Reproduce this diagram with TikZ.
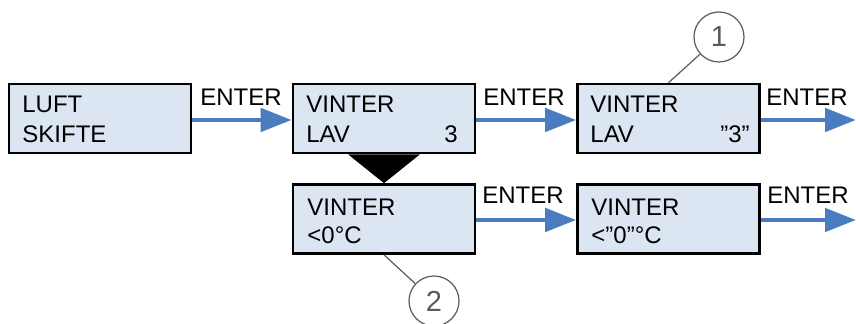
\documentclass[tikz,border=0pt]{standalone}
\usepackage{fontspec}
\setmainfont{Liberation Sans}
\usetikzlibrary{arrows.meta,calc}
\definecolor{boxfill}{HTML}{DCE6F2}
\definecolor{arrblue}{HTML}{4A7CC0}
\definecolor{calloutgray}{HTML}{5A5A5A}
\tikzset{
  screen/.style={draw=black, line width=1.3pt, fill=boxfill, rectangle, minimum width=91pt, minimum height=34.5pt, inner sep=0pt},
  txt/.style={inner sep=0pt, anchor=base west, font=\fontsize{12}{14}\selectfont},
  rtxt/.style={inner sep=0pt, anchor=base east, font=\fontsize{12}{14}\selectfont},
  enterarrow/.style={draw=arrblue, line width=2.4pt, -{Triangle[length=15.5pt,width=11.5pt]}},
  callout/.style={draw=calloutgray, line width=0.6pt, circle, minimum size=25pt, inner sep=0pt, text=calloutgray, font=\fontsize{14.5}{16}\selectfont},
  calloutline/.style={draw=calloutgray, line width=0.6pt}
}
\begin{document}
\begin{tikzpicture}[x=0.5pt,y=-0.5pt]
\useasboundingbox (0,0) rectangle (856,324);
% boxes
\node[screen] (b1) at (100,118.5) {};
\node[screen] (b2) at (384,118.5) {};
\node[screen] (b3) at (668.5,118.5) {};
\node[screen] (b4) at (384,219) {};
\node[screen] (b5) at (668.5,219) {};
% texts
\node[txt] (t1a) at (22,113) {LUFT};
\node[txt] (t1b) at (22,143) {SKIFTE};
\node[txt] (t2a) at (306,113) {VINTER};
\node[txt] (t2b) at (306,143) {LAV};
\node[rtxt] (t2c) at (458,143) {3};
\node[txt] (t3a) at (590,113) {VINTER};
\node[txt] (t3b) at (590,143) {LAV};
\node[rtxt] (t3c) at (750,143) {”3”};
\node[txt] (t4a) at (307,216) {VINTER};
\node[txt] (t4b) at (307,244) {<0°C};
\node[txt] (t5a) at (591,216) {VINTER};
\node[txt] (t5b) at (591,244) {<”0”°C};
% free ends
\coordinate (e3) at (856,120);
\coordinate (e5) at (856,220);
% arrows
\draw[enterarrow] (b1.east |- 0,120) -- (b2.west |- 0,120);
\draw[enterarrow] (b2.east |- 0,120) -- (b3.west |- 0,120);
\draw[enterarrow] (b3.east |- 0,120) -- (e3);
\draw[enterarrow] (b4.east |- 0,220) -- (b5.west |- 0,220);
\draw[enterarrow] (b5.east |- 0,220) -- (e5);
% arrow labels
\node[txt] (l1) at (200,106) {ENTER};
\node[txt] (l2) at (483,106) {ENTER};
\node[txt] (l3) at (766,106) {ENTER};
\node[txt] (l4) at (482,204) {ENTER};
\node[txt] (l5) at (767,204) {ENTER};
% black triangle
\fill[black] ($(b2.south)+(-36,0)$) -- ($(b2.south)+(36,0)$) -- (b4.north) -- cycle;
% callouts
\node[callout] (c1) at (719,37) {1};
\node[callout] (c2) at (434,301) {2};
\draw[calloutline] (b3.north) -- (c1);
\draw[calloutline] (b4.south) -- (c2);
\end{tikzpicture}
\end{document}
